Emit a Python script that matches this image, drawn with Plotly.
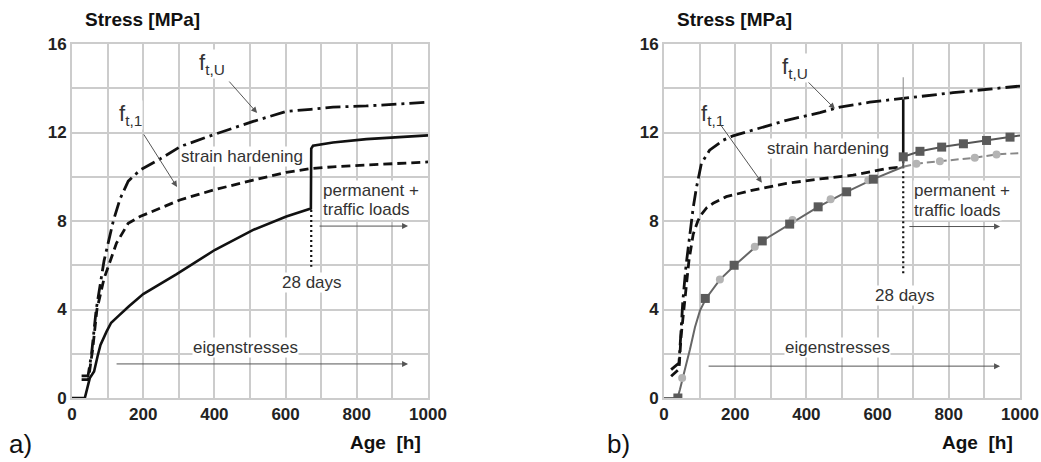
import plotly.graph_objects as go

# ---------------- data ----------------
# Panel a)
a_solid_x = [0, 36, 50, 62, 72, 80, 97, 110, 130, 160, 200, 294, 402, 509, 602, 671, 672, 677, 733, 827, 1000]
a_solid_y = [0, 0, 0.9, 1.2, 1.9, 2.4, 3.0, 3.4, 3.7, 4.15, 4.7, 5.6, 6.7, 7.6, 8.2, 8.56, 11.27, 11.4, 11.55, 11.7, 11.87]
a_ftu_x = [27, 45, 55, 68, 90, 116, 135, 158, 191, 247, 303, 397, 509, 602, 671, 733, 827, 1000]
a_ftu_y = [1.0, 1.0, 2.0, 4.0, 6.2, 8.0, 9.0, 9.8, 10.3, 10.8, 11.35, 11.9, 12.5, 12.95, 13.05, 13.15, 13.2, 13.37]
a_ft1_x = [27, 46, 58, 70, 90, 125, 158, 191, 303, 397, 509, 602, 671, 733, 1000]
a_ft1_y = [0.83, 0.83, 2.2, 4.0, 5.4, 7.0, 7.9, 8.2, 8.95, 9.4, 9.85, 10.2, 10.37, 10.45, 10.67]

# Panel b)
b_curve_x = [0, 38, 45, 52, 62, 73, 87, 101, 118, 157, 199, 276, 353, 433, 513, 588, 672]
b_curve_y = [0, 0, 0.4, 0.9, 1.5, 2.2, 3.2, 3.95, 4.5, 5.35, 6.0, 7.1, 7.85, 8.64, 9.32, 9.89, 10.45]
b_sq_x = [39, 116, 197, 276, 353, 433, 513, 588, 672, 719, 780, 841, 906, 972]
b_sq_y = [0, 4.5, 6.0, 7.1, 7.86, 8.64, 9.32, 9.89, 10.9, 11.15, 11.34, 11.49, 11.64, 11.79]
b_sq_tail_x = [672, 672, 719, 780, 841, 906, 972, 1000]
b_sq_tail_y = [10.45, 10.9, 11.15, 11.34, 11.49, 11.64, 11.79, 11.87]
b_ci_x = [51, 157, 255, 361, 468, 574, 709, 775, 873, 934]
b_ci_y = [0.9, 5.36, 6.84, 8.04, 8.98, 9.84, 10.59, 10.7, 10.86, 11.01]
b_ci_tail_x = [672, 709, 775, 873, 934, 1000]
b_ci_tail_y = [10.45, 10.59, 10.7, 10.86, 11.01, 11.07]
b_ftu_x = [20, 42, 47, 53, 62, 72, 82, 91, 105, 128, 166, 194, 250, 344, 438, 494, 578, 672, 812, 1000]
b_ftu_y = [1.28, 1.58, 2.8, 4.4, 6.0, 7.4, 8.6, 9.5, 10.6, 11.2, 11.65, 11.85, 12.1, 12.55, 12.9, 13.15, 13.37, 13.55, 13.8, 14.1]
b_ft1_x = [20, 42, 48, 58, 70, 82, 95, 105, 120, 138, 175, 250, 344, 438, 531, 625, 672]
b_ft1_y = [0.98, 1.3, 2.8, 4.4, 6.2, 7.4, 8.0, 8.3, 8.6, 8.8, 9.1, 9.4, 9.7, 9.9, 10.07, 10.37, 10.45]

day28 = 672
x_ticks = [0, 100, 200, 300, 400, 500, 600, 700, 800, 900, 1000]
x_ticktext = ["0", "", "200", "", "400", "", "600", "", "800", "", "1000"]
y_ticks = [0, 2, 4, 6, 8, 10, 12, 14, 16]
y_ticktext = ["0", "", "4", "", "8", "", "12", "", "16"]

# ---------------- figure ----------------
fig = go.Figure()
DASHDOT = "15px,5px,3px,5px"
DASH = "9px,5px"

def add(x, y, xa, ya, **kw):
    fig.add_trace(go.Scatter(x=x, y=y, xaxis=xa, yaxis=ya, showlegend=False,
                             hoverinfo="skip", **kw))

# panel a
add(a_ftu_x, a_ftu_y, "x", "y", mode="lines", line=dict(color="#111", width=2.8, dash=DASHDOT))
add(a_ft1_x, a_ft1_y, "x", "y", mode="lines", line=dict(color="#111", width=2.8, dash=DASH))
add(a_solid_x, a_solid_y, "x", "y", mode="lines", line=dict(color="#111", width=2.6))
add([day28, day28], [8.5, 5.93], "x", "y", mode="lines", line=dict(color="#111", width=2.2, dash="2px,3px"))

# panel b
add(b_ftu_x, b_ftu_y, "x2", "y2", mode="lines", line=dict(color="#111", width=2.8, dash=DASHDOT))
add(b_ft1_x, b_ft1_y, "x2", "y2", mode="lines", line=dict(color="#111", width=2.8, dash=DASH))
add([day28, day28], [14.5, 10.7], "x2", "y2", mode="lines", line=dict(color="#999", width=1.2))
add([day28, day28], [13.5, 10.9], "x2", "y2", mode="lines", line=dict(color="#111", width=2.6))
add([day28, day28], [10.7, 5.5], "x2", "y2", mode="lines", line=dict(color="#111", width=2.2, dash="2px,3px"))
add(b_curve_x, b_curve_y, "x2", "y2", mode="lines", line=dict(color="#666", width=2))
add(b_ci_tail_x, b_ci_tail_y, "x2", "y2", mode="lines", line=dict(color="#888", width=2, dash="8px,4px"))
add(b_sq_tail_x, b_sq_tail_y, "x2", "y2", mode="lines", line=dict(color="#555", width=2))
add(b_ci_x, b_ci_y, "x2", "y2", mode="markers", marker=dict(symbol="circle", size=8, color="#b4b4b4"))
add(b_sq_x, b_sq_y, "x2", "y2", mode="markers", marker=dict(symbol="square", size=9, color="#5a5a5a"))

GRID = "#cccccc"
axis_common = dict(showgrid=True, gridcolor=GRID, gridwidth=2, showline=True, linecolor=GRID,
                   linewidth=2, mirror=True, zeroline=False, ticks="", automargin=False,
                   tickfont=dict(family="Liberation Sans, Arial", size=17, color="#222", weight="bold"))
xa = dict(range=[0, 1000], tickmode="array", tickvals=x_ticks, ticktext=x_ticktext, **axis_common)
ya = dict(range=[0, 16], tickmode="array", tickvals=y_ticks, ticktext=y_ticktext, **axis_common)

ydom = [1 - 398 / 462, 1 - 44 / 462]
fig.update_layout(
    template="none",
    width=1041, height=462, margin=dict(l=0, r=0, t=0, b=0, pad=0, autoexpand=False),
    paper_bgcolor="white", plot_bgcolor="white",
    xaxis=dict(domain=[72 / 1041, 428 / 1041], anchor="y", **xa),
    yaxis=dict(domain=ydom, anchor="x", **ya),
    xaxis2=dict(domain=[664 / 1041, 1020 / 1041], anchor="y2", **xa),
    yaxis2=dict(domain=ydom, anchor="x2", **ya),
)

TXT = dict(family="Liberation Sans, Arial", color="#333")
anns = []

def text(x, y, s, xr, yr, size=17, xanchor="center", **kw):
    anns.append(dict(x=x, y=y, xref=xr, yref=yr, text=s, showarrow=False, xanchor=xanchor,
                     font=dict(size=size, **TXT), bgcolor="white", borderpad=0, **kw))

def arrow(x0, y0, x1, y1, xr, yr, color="#555"):
    anns.append(dict(x=x1, y=y1, ax=x0, ay=y0, xref=xr, yref=yr, axref=xr, ayref=yr,
                     text="", showarrow=True, arrowhead=2, arrowsize=1.2, arrowwidth=1,
                     arrowcolor=color, standoff=0, startstandoff=0))

for xr, yr, p in (("x", "y", "a"), ("x2", "y2", "b")):
    if p == "a":
        text(393, 15.1, "f<sub>t,U</sub>", xr, yr, size=22)
        arrow(438, 14.37, 520, 12.88, xr, yr)
        text(163, 12.8, "f<sub>t,1</sub>", xr, yr, size=22)
        arrow(199, 11.98, 295, 9.54, xr, yr)
        text(478, 10.9, "strain hardening", xr, yr)
        text(702, 9.4, "permanent +", xr, yr, xanchor="left")
        text(702, 8.5, "traffic loads", xr, yr, xanchor="left")
        arrow(691, 7.77, 944, 7.77, xr, yr)
        text(674, 5.24, "28 days", xr, yr)
        text(486, 2.3, "eigenstresses", xr, yr)
        arrow(121, 1.54, 944, 1.54, xr, yr)
    else:
        text(368, 14.9, "f<sub>t,U</sub>", xr, yr, size=22)
        arrow(402, 14.33, 480, 13.07, xr, yr)
        text(135, 12.8, "f<sub>t,1</sub>", xr, yr, size=22)
        arrow(157, 12.39, 275, 9.73, xr, yr)
        text(461, 11.27, "strain hardening", xr, yr)
        text(700, 9.37, "permanent +", xr, yr, xanchor="left")
        text(700, 8.47, "traffic loads", xr, yr, xanchor="left")
        arrow(685, 7.75, 944, 7.75, xr, yr)
        text(677, 4.64, "28 days", xr, yr)
        text(486, 2.3, "eigenstresses", xr, yr)
        arrow(121, 1.44, 944, 1.44, xr, yr)

BOLD = dict(family="Liberation Sans, Arial", size=19, color="#111", weight="bold")
for cx, s in ((142, "Stress [MPa]"), (734, "Stress [MPa]")):
    anns.append(dict(x=cx / 1041, y=1 - 20 / 462, xref="paper", yref="paper", text=s,
                     showarrow=False, font=BOLD, xanchor="center", yanchor="middle"))
for cx, s in ((385, "Age  [h]"), (977, "Age  [h]")):
    anns.append(dict(x=cx / 1041, y=1 - 442 / 462, xref="paper", yref="paper", text=s.replace("  ", "&nbsp; "),
                     showarrow=False, font=BOLD, xanchor="center", yanchor="middle"))
for cx, s in ((20, "a)"), (618, "b)")):
    anns.append(dict(x=cx / 1041, y=1 - 444 / 462, xref="paper", yref="paper", text=s,
                     showarrow=False, font=dict(family="Liberation Sans, Arial", size=26, color="#111"),
                     xanchor="center", yanchor="middle"))

fig.update_layout(annotations=anns)
fig.write_html("out.html", config={"displayModeBar": False, "staticPlot": True},
               post_script="document.body.style.margin='0';document.body.style.overflow='hidden';")
